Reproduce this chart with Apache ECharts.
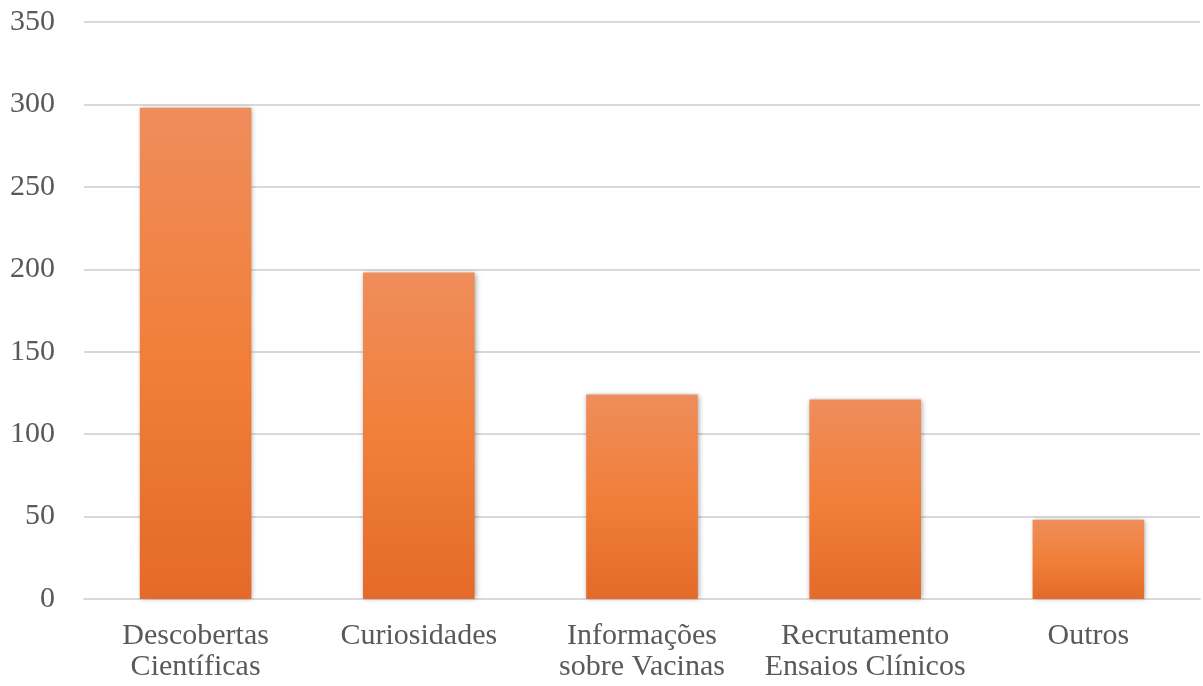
<!DOCTYPE html>
<html>
<head>
<meta charset="utf-8">
<script src="https://cdn.jsdelivr.net/npm/echarts@6/dist/echarts.min.js"></script>
<style>
  html, body { margin: 0; padding: 0; background: #fff; }
  #chart { width: 1203px; height: 686px; }
</style>
</head>
<body>
<div id="chart"></div>
<script>
// categorias e valores
var categories = ['Descobertas\nCientíficas', 'Curiosidades', 'Informações\nsobre Vacinas', 'Recrutamento\nEnsaios Clínicos', 'Outros'];
var values = [298, 198, 124, 121, 48];
var yTicks = [0, 50, 100, 150, 200, 250, 300, 350];

var myChart = echarts.init(document.getElementById('chart'));

var option = {
    animation: false,
    grid: { left: 84, right: 3, top: 22, bottom: 87 },
    xAxis: {
        type: 'category',
        data: categories,
        axisTick: { show: false },
        axisLine: { lineStyle: { color: '#d9d9d9', width: 2 } },
        axisLabel: {
            color: '#595959',
            fontFamily: 'Liberation Serif',
            fontSize: 30,
            lineHeight: 31,
            margin: 22,
            interval: 0
        }
    },
    yAxis: {
        type: 'value',
        min: yTicks[0],
        max: yTicks[yTicks.length - 1],
        interval: 50,
        axisLine: { show: false },
        axisTick: { show: false },
        splitLine: { lineStyle: { color: '#d9d9d9', width: 2 } },
        axisLabel: {
            color: '#595959',
            fontFamily: 'Liberation Serif',
            fontSize: 30,
            margin: 29
        }
    },
    series: [{
        type: 'bar',
        data: values,
        barWidth: '50%',
        itemStyle: {
            color: new echarts.graphic.LinearGradient(0, 0, 0, 1, [
                { offset: 0, color: '#ef8d5b' },
                { offset: 0.5, color: '#f17f3a' },
                { offset: 1, color: '#e46a29' }
            ]),
            shadowBlur: 5,
            shadowColor: 'rgba(0,0,0,0.35)',
            shadowOffsetX: 1,
            shadowOffsetY: 0
        }
    }]
};

myChart.setOption(option);
</script>
</body>
</html>
